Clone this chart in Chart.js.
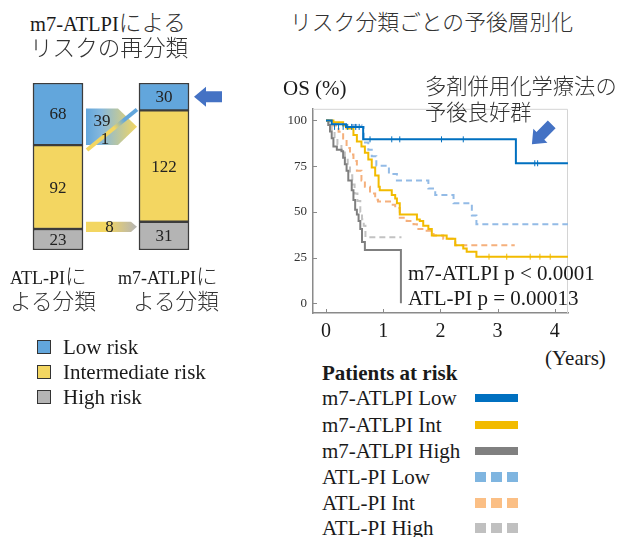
<!DOCTYPE html>
<html lang="ja">
<head>
<meta charset="utf-8">
<script src="https://cdn.jsdelivr.net/npm/chart.js@4.4.1/dist/chart.umd.min.js"></script>
<style>
  body { margin: 0; background: #fff; }
  #wrap { position: relative; width: 619px; height: 537px; overflow: hidden;
          font-family: "Liberation Serif", "Times New Roman", serif; color: #1a1a1a; }
  canvas { position: absolute; }
  .t { position: absolute; white-space: nowrap; line-height: 26px; font-size: 21px; }
  .s18 { font-size: 18px; }
  .jp { font-family: "Noto Sans CJK JP", sans-serif; font-weight: 300; color: #333; }
  .j21 { font-size: 21.6px; }
  .sq { position: absolute; left: 37px; width: 12px; height: 12px; border: 1px solid #333; }
  .sw { position: absolute; left: 475px; width: 43px; height: 8px; }
  .dot { position: absolute; width: 11px; height: 10px; }
</style>
</head>
<body>
<div id="wrap">
  <canvas id="bars" width="240" height="200" style="left:0;top:60px"></canvas>
  <canvas id="km" width="345" height="250" style="left:270px;top:95px"></canvas>

  <!-- 左側の見出し -->
  <div class="t" style="left:30px;top:9px;font-size:20.5px">m7-ATLPI<span class="jp" style="font-size:22.6px">による</span></div>
  <div class="t jp" style="left:30px;top:34px;font-size:22.6px">リスクの再分類</div>
  <div class="t s18" style="left:10px;top:262px">ATL-PI<span class="jp j21">に</span></div>
  <div class="t jp j21" style="left:10px;top:287px">よる分類</div>
  <div class="t s18" style="left:118px;top:262px">m7-ATLPI<span class="jp j21">に</span></div>
  <div class="t jp j21" style="left:133px;top:287px">よる分類</div>

  <div class="sq" style="top:340px;background:#62a6dc"></div>
  <div class="t" style="left:63px;top:334px">Low risk</div>
  <div class="sq" style="top:365px;background:#f3d661"></div>
  <div class="t" style="left:63px;top:359px">Intermediate risk</div>
  <div class="sq" style="top:390px;background:#b4b4b4"></div>
  <div class="t" style="left:63px;top:384px">High risk</div>

  <!-- 右側 -->
  <div class="t jp" style="left:290px;top:8px;font-size:21.8px">リスク分類ごとの予後層別化</div>
  <div class="t" style="left:283px;top:75px">OS (%)</div>
  <div class="t jp" style="left:425px;top:72px;font-size:21.3px">多剤併用化学療法の</div>
  <div class="t jp" style="left:425px;top:98px;font-size:21.3px">予後良好群</div>
  <div class="t" style="left:408px;top:260px">m7-ATLPI p &lt; 0.0001</div>
  <div class="t" style="left:408px;top:285px">ATL-PI p = 0.00013</div>
  <div class="t" style="left:545px;top:345px">(Years)</div>

  <div class="t" style="left:322px;top:360px;font-weight:bold">Patients at risk</div>
  <div class="t" style="left:322px;top:385px">m7-ATLPI Low</div>
  <div class="t" style="left:322px;top:412px">m7-ATLPI Int</div>
  <div class="t" style="left:322px;top:438px">m7-ATLPI High</div>
  <div class="t" style="left:322px;top:464px">ATL-PI Low</div>
  <div class="t" style="left:322px;top:490px">ATL-PI Int</div>
  <div class="t" style="left:322px;top:515px">ATL-PI High</div>

  <div class="sw" style="top:394px;background:#0070c0"></div>
  <div class="sw" style="top:421px;background:#f2bb00"></div>
  <div class="sw" style="top:447px;background:#808080"></div>
  <div id="dots"></div>
</div>

<script>
// ---- 再分類（棒グラフ）のデータ ----
const barCategories = ['ATL-PI', 'm7-ATLPI'];
const lowRisk = [68, 30];
const intRisk = [92, 122];
const highRisk = [23, 31];
// 移動した症例数
const lowToInt = 39;
const intToLow = 1;
const intToHigh = 8;

// ---- 生存曲線のデータ（年, %）----
const xTicks = [0, 1, 2, 3, 4];
const yTicks = [0, 25, 50, 75, 100];

const m7LowT = [0, 0.1, 0.35, 0.65, 3.32, 4.23];
const m7LowS = [100, 98, 96.5, 89.7, 76.6, 76.6];

const m7IntT = [0, 0.13, 0.3, 0.36, 0.48, 0.54, 0.62, 0.68, 0.74, 0.8, 0.86, 0.92, 0.94, 1.15, 1.21, 1.24, 1.29, 1.59, 1.64, 1.7, 1.79, 1.85, 2.11, 2.26, 2.4, 2.46, 2.63, 4.23];
const m7IntS = [100, 99, 97.3, 95.6, 92, 88.5, 85.8, 82.3, 78.7, 74.3, 69.9, 63.7, 61.9, 59.2, 57.4, 54.8, 48.6, 45.9, 45, 42.4, 40.6, 37.1, 35.3, 31.7, 30, 28.2, 25.5, 25.5];

const m7HighT = [0, 0.04, 0.07, 0.1, 0.13, 0.19, 0.27, 0.3, 0.33, 0.36, 0.39, 0.45, 0.48, 0.51, 0.54, 0.57, 0.6, 0.63, 0.68, 1.31];
const m7HighS = [100, 97.6, 94, 90.3, 85.8, 84, 83.2, 79.6, 76, 72.5, 67.2, 61.9, 56.5, 51.2, 48.6, 45, 40.6, 33.5, 29.1, 0];

const atlLowT = [0, 0.1, 0.3, 0.62, 0.66, 0.74, 0.8, 0.88, 1.1, 1.24, 1.79, 1.91, 2.23, 2.55, 2.63, 4.23];
const atlLowS = [100, 98.5, 97.5, 96.5, 88, 84, 80.5, 75.2, 70.7, 67.2, 62.8, 59.2, 54.8, 48, 43.3, 43.3];

const atlIntT = [0, 0.13, 0.22, 0.3, 0.36, 0.42, 0.48, 0.54, 0.62, 0.68, 0.77, 0.86, 0.91, 1.12, 1.21, 1.29, 1.41, 1.53, 1.59, 1.76, 1.88, 2.05, 2.26, 3.3];
const atlIntS = [100, 97.3, 93.8, 90.2, 84.9, 81.4, 77.8, 72.5, 67.2, 63.7, 60.1, 56.6, 55.7, 53.9, 52.1, 46.8, 45, 43.3, 40.6, 39.7, 37.1, 35.3, 31.8, 31.8];

const atlHighT = [0, 0.05, 0.1, 0.15, 0.2, 0.27, 0.33, 0.38, 0.42, 0.46, 0.5, 0.55, 0.6, 0.63, 0.66, 0.69, 1.32];
const atlHighS = [100, 97, 94, 90, 87, 84, 80, 75, 70, 65, 60, 56, 50, 46, 42.4, 36.2, 36.2];

// 打ち切り
const m7LowCensorT = [0.15, 0.22, 0.3, 0.38, 0.45, 0.52, 0.58, 0.77, 1.15, 1.29, 2.02, 2.4, 3.65, 3.7];
const m7LowCensorS = [96.5, 96.5, 96.5, 96.5, 96.5, 96.5, 96.5, 89.7, 89.7, 89.7, 89.7, 89.7, 76.6, 76.6];
const m7IntCensorT = [2.85, 3.16, 3.57, 3.74, 3.92];
const m7IntCensorS = [25.5, 25.5, 25.5, 25.5, 25.5];

const colLow = '#62a6dc', colInt = '#f3d661', colHigh = '#b4b4b4';
const arrowBlue = '#4472c4';

// 矢印（先端の位置と向き）
function drawArrow(ctx, tipX, tipY, angle) {
  ctx.save();
  ctx.translate(tipX, tipY);
  ctx.rotate(angle);
  ctx.fillStyle = arrowBlue;
  ctx.beginPath();
  ctx.moveTo(0, 0);
  ctx.lineTo(12, -10);
  ctx.lineTo(12, -5.5);
  ctx.lineTo(28, -5.5);
  ctx.lineTo(28, 5.5);
  ctx.lineTo(12, 5.5);
  ctx.lineTo(12, 10);
  ctx.closePath();
  ctx.fill();
  ctx.restore();
}

const barLabels = {
  id: 'barLabels',
  afterDatasetsDraw(chart) {
    const ctx = chart.ctx;
    ctx.save();
    ctx.font = '17px "Liberation Serif"';
    ctx.fillStyle = '#222';
    ctx.textAlign = 'center';
    ctx.textBaseline = 'middle';
    chart.data.datasets.forEach((ds, i) => {
      chart.getDatasetMeta(i).data.forEach((el, j) => {
        ctx.fillText(ds.data[j], el.x, (el.y + el.base) / 2 + 1);
      });
    });
    ctx.restore();
  }
};

const flowArrows = {
  id: 'flowArrows',
  afterDraw(chart) {
    const { ctx, scales: { x, y } } = chart;
    const half = 25;
    const L = x.getPixelForValue(0) + half + 3;
    const R = x.getPixelForValue(1) - half - 2;

    // Low -> Int (39) と Int -> Low (1)
    const yb = y.getPixelForValue(highRisk[0] + intRisk[0]);
    const yt = y.getPixelForValue(highRisk[0] + intRisk[0] + lowToInt + intToLow);
    ctx.save();
    const g1 = ctx.createLinearGradient(L, 0, R, 0);
    g1.addColorStop(0, colLow);
    g1.addColorStop(0.3, '#86b8dc');
    g1.addColorStop(1, colInt);
    ctx.fillStyle = g1;
    ctx.beginPath();
    ctx.moveTo(L, yt);
    ctx.lineTo(L + 32, yt);
    ctx.lineTo(R, (yt + yb) / 2);
    ctx.lineTo(L + 32, yb);
    ctx.lineTo(L, yb);
    ctx.closePath();
    ctx.fill();

    const g2 = ctx.createLinearGradient(L, yb + 5, R, yt + 1);
    g2.addColorStop(0, colInt);
    g2.addColorStop(0.55, colInt);
    g2.addColorStop(0.75, colLow);
    g2.addColorStop(1, colLow);
    ctx.strokeStyle = g2;
    ctx.lineWidth = 4;
    ctx.beginPath();
    ctx.moveTo(L + 1, yb + 5);
    ctx.lineTo(R, yt + 1);
    ctx.stroke();

    ctx.font = '17px "Liberation Serif"';
    ctx.fillStyle = '#222';
    ctx.textAlign = 'center';
    ctx.textBaseline = 'middle';
    ctx.fillText(lowToInt, L + 16, yt + 13);
    ctx.fillText(intToLow, L + 19, yt + 31);

    // Int -> High (8)
    const y8t = y.getPixelForValue(highRisk[0] + intToHigh);
    const y8b = y.getPixelForValue(highRisk[0]) + 3;
    const g3 = ctx.createLinearGradient(L, 0, R, 0);
    g3.addColorStop(0, colInt);
    g3.addColorStop(0.4, colInt);
    g3.addColorStop(1, colHigh);
    ctx.fillStyle = g3;
    ctx.beginPath();
    ctx.moveTo(L, y8t);
    ctx.lineTo(R - 6, y8t);
    ctx.lineTo(R, (y8t + y8b) / 2);
    ctx.lineTo(R - 6, y8b);
    ctx.lineTo(L, y8b);
    ctx.closePath();
    ctx.fill();
    ctx.fillStyle = '#222';
    ctx.fillText(intToHigh, (L + R) / 2 - 2, (y8t + y8b) / 2 + 1);
    ctx.restore();

    // m7-ATLPI の Low を指す矢印
    const el = chart.getDatasetMeta(2).data[1];
    drawArrow(ctx, el.x + half + 5, (el.y + el.base) / 2, 0);
  }
};

new Chart(document.getElementById('bars'), {
  type: 'bar',
  data: {
    labels: barCategories,
    datasets: [
      { label: 'High risk', data: highRisk, backgroundColor: colHigh },
      { label: 'Intermediate risk', data: intRisk, backgroundColor: colInt },
      { label: 'Low risk', data: lowRisk, backgroundColor: colLow }
    ].map(d => Object.assign(d, { borderColor: '#3c3c3c', borderWidth: 1.5, borderSkipped: false, barThickness: 50 }))
  },
  options: {
    responsive: false,
    animation: false,
    devicePixelRatio: 1,
    layout: { padding: { left: 5, right: 23, top: 23, bottom: 10 } },
    plugins: { legend: { display: false }, tooltip: { enabled: false } },
    scales: {
      x: { stacked: true, display: false },
      y: { stacked: true, display: false, min: 0, max: Math.max(...lowRisk.map((v, i) => v + intRisk[i] + highRisk[i])) }
    }
  },
  plugins: [barLabels, flowArrows]
});

// 生存曲線
function toXY(t, s) {
  return t.map((v, i) => ({ x: v, y: s[i] }));
}

const kmFrame = {
  id: 'kmFrame',
  beforeDatasetsDraw(chart) {
    const { ctx, chartArea: a, scales: { x, y } } = chart;
    ctx.save();
    ctx.strokeStyle = '#d4d4d4';
    ctx.lineWidth = 1;
    ctx.beginPath();
    ctx.moveTo(a.left, a.top + 0.5);
    ctx.lineTo(a.right - 0.5, a.top + 0.5);
    ctx.lineTo(a.right - 0.5, a.bottom);
    ctx.stroke();
    ctx.strokeStyle = '#8a8a8a';
    ctx.beginPath();
    xTicks.forEach(v => {
      const px = Math.round(x.getPixelForValue(v)) + 0.5;
      ctx.moveTo(px, a.bottom);
      ctx.lineTo(px, a.bottom - 4);
    });
    yTicks.forEach(v => {
      const py = Math.round(y.getPixelForValue(v)) + 0.5;
      ctx.moveTo(a.left, py);
      ctx.lineTo(a.left + 4, py);
    });
    ctx.stroke();
    ctx.restore();
  },
  afterDraw(chart) {
    const { scales: { x, y } } = chart;
    drawArrow(chart.ctx, x.getPixelForValue(3.6), y.getPixelForValue(87), -Math.PI / 4);
  }
};

const solid = { borderWidth: 2, stepped: true, pointRadius: 0, fill: false };
const dashed = { borderWidth: 2, stepped: true, pointRadius: 0, fill: false, borderDash: [6, 4] };
const censor = { showLine: false, pointStyle: 'line', rotation: 90, pointRadius: 3, borderWidth: 1 };

new Chart(document.getElementById('km'), {
  type: 'line',
  data: {
    datasets: [
      { label: 'm7-ATLPI Low', data: toXY(m7LowT, m7LowS), borderColor: '#0070c0', order: 1, ...solid },
      { label: 'm7-ATLPI Int', data: toXY(m7IntT, m7IntS), borderColor: '#f2bb00', order: 2, ...solid },
      { label: 'm7-ATLPI High', data: toXY(m7HighT, m7HighS), borderColor: '#7f7f7f', order: 3, ...solid },
      { label: 'ATL-PI Low', data: toXY(atlLowT, atlLowS), borderColor: '#93bbe6', order: 4, ...dashed },
      { label: 'ATL-PI Int', data: toXY(atlIntT, atlIntS), borderColor: '#f5b07c', order: 5, ...dashed },
      { label: 'ATL-PI High', data: toXY(atlHighT, atlHighS), borderColor: '#c2c2c2', order: 6, ...dashed },
      { label: 'censor Low', data: toXY(m7LowCensorT, m7LowCensorS), borderColor: '#0070c0', order: 0, ...censor },
      { label: 'censor Int', data: toXY(m7IntCensorT, m7IntCensorS), borderColor: '#f2bb00', order: 0, ...censor }
    ]
  },
  options: {
    responsive: false,
    animation: false,
    devicePixelRatio: 1,
    layout: { padding: { top: 8, right: 47, left: 0, bottom: 0 } },
    plugins: { legend: { display: false }, tooltip: { enabled: false } },
    scales: {
      x: {
        type: 'linear', min: -0.227, max: 4.231,
        afterBuildTicks: s => { s.ticks = xTicks.map(v => ({ value: v })); },
        afterFit: s => { s.height = 32; },
        grid: { display: false, drawTicks: false },
        border: { color: '#8a8a8a', width: 1.5 },
        ticks: { padding: 7, autoSkip: false, maxRotation: 0, color: '#1a1a1a',
                 font: { family: 'Liberation Serif', size: 20 } }
      },
      y: {
        min: -5.3, max: 106.4,
        afterBuildTicks: s => { s.ticks = yTicks.map(v => ({ value: v })); },
        afterFit: s => { s.width = 43; },
        grid: { display: false, drawTicks: false },
        border: { color: '#8a8a8a', width: 1.5 },
        ticks: { padding: 6, color: '#333', font: { family: 'Liberation Serif', size: 13 } }
      }
    }
  },
  plugins: [kmFrame]
});

// 凡例の破線見本（四角3つ）
const dotColors = ['#7fb5e0', '#fbbf85', '#c0c0c0'];
const dotTops = [472, 498, 523];
const dots = document.getElementById('dots');
dotColors.forEach((c, i) => {
  [475, 491, 507].forEach(left => {
    const d = document.createElement('div');
    d.className = 'dot';
    d.style.left = left + 'px';
    d.style.top = dotTops[i] + 'px';
    d.style.background = c;
    dots.appendChild(d);
  });
});
</script>
</body>
</html>
